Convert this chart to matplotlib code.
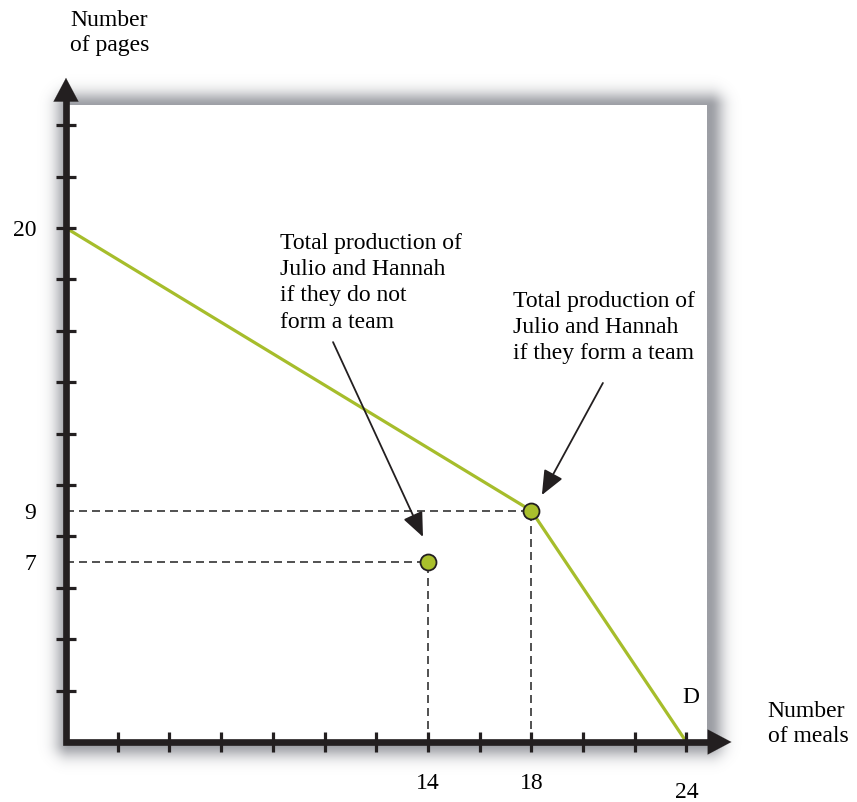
import numpy as np
import matplotlib
matplotlib.use('Agg')
import matplotlib.pyplot as plt
from matplotlib.patches import Rectangle

# dados do grafico
frente_x = [0, 18, 24]
frente_y = [20, 9, 0]
pontos_x = [14, 18]
pontos_y = [7, 9]
ticks_x = list(range(2, 25, 2))
ticks_y = list(range(2, 25, 2))
rotulos_x = {14: '14', 18: '18', 24: '24'}
rotulos_y = {20: '20', 9: '9', 7: '7'}

texto1 = 'Total production of\nJulio and Hannah\nif they do not\nform a team'
texto2 = 'Total production of\nJulio and Hannah\nif they form a team'

preto = '#231f20'
verde = '#a6bd2b'
fonte = 'Liberation Serif'
tam = 17

fig = plt.figure(figsize=(8.57, 8.02), dpi=100)
ax = fig.add_axes([0, 0, 1, 1])
ax.set_xlim(-66 / 25.85, (857 - 66) / 25.85)
ax.set_ylim(-60 / 25.7, 742 / 25.7)
ax.axis('off')

# sombra da caixa branca
xs = np.linspace(-2, 27, 600)
ys = np.linspace(-2, 27, 600)
X, Y = np.meshgrid(xs, ys)
sx, sy = 0.12, -0.08
dx = np.maximum(0, np.maximum((0 + sx) - X, X - (24.8 + sx)))
dy = np.maximum(0, np.maximum((0 + sy) - Y, Y - (24.8 + sy)))
d = np.sqrt(dx ** 2 + dy ** 2)
img = np.zeros((600, 600, 4))
img[..., 0] = 0.36
img[..., 1] = 0.37
img[..., 2] = 0.41
img[..., 3] = 0.6 * np.exp(-(d / 0.55) ** 2)
ax.imshow(img, extent=[-2, 27, -2, 27], origin='lower',
          interpolation='bilinear', aspect='auto', zorder=0)
ax.add_patch(Rectangle((0, 0), 24.8, 24.8, facecolor='white', edgecolor='none', zorder=1))

# eixos com setas
ax.plot([0, 0, 25.2], [25.2, 0, 0], color=preto, lw=4.8, solid_joinstyle='miter',
        solid_capstyle='butt', zorder=5)
ax.annotate('', xy=(0, 25.95), xytext=(0, 24.95),
            arrowprops=dict(arrowstyle='-|>,head_length=0.85,head_width=0.45',
                            color=preto, lw=0.1, mutation_scale=20), zorder=5)
ax.annotate('', xy=(25.85, 0), xytext=(24.85, 0),
            arrowprops=dict(arrowstyle='-|>,head_length=0.85,head_width=0.45',
                            color=preto, lw=0.1, mutation_scale=20), zorder=5)
ax.vlines(ticks_x, -0.37, 0.37, color=preto, lw=2.3, zorder=5)
ax.hlines(ticks_y, -0.37, 0.37, color=preto, lw=2.3, zorder=5)

# linhas tracejadas
for px, py in zip(pontos_x, pontos_y):
    ax.plot([0, px], [py, py], color='#333333', lw=1.2, dashes=(4.8, 3), zorder=3)
    ax.plot([px, px], [0, py], color='#333333', lw=1.2, dashes=(4.8, 3), zorder=3)

# fronteira de producao
ax.plot(frente_x, frente_y, color=verde, lw=2.3, zorder=4, solid_capstyle='butt')
ax.plot(pontos_x, pontos_y, 'o', ms=11.5, mfc='#a9bf2c', mec=preto, mew=1.3, zorder=6)

# rotulos
for v, t in rotulos_x.items():
    yy = -1.95 if v == 24 else -1.6
    ax.text(v, yy, t, ha='center', va='center', fontsize=tam, family=fonte)
for v, t in rotulos_y.items():
    ax.text(-1.16, v - 0.1, t, ha='right', va='center', fontsize=tam, family=fonte)

ax.text(24.18, 1.75, 'D', ha='center', va='center', fontsize=tam, family=fonte)
ax.text(0.15, 28.5, 'Number\nof pages', ha='left', va='top', fontsize=tam,
        family=fonte, linespacing=1.28)
ax.text(27.15, 1.6, 'Number\nof meals', ha='left', va='top', fontsize=tam,
        family=fonte, linespacing=1.28)

ax.text(8.28, 19.8, texto1, ha='left', va='top', fontsize=tam, family=fonte,
        linespacing=1.32)
ax.text(17.3, 17.55, texto2, ha='left', va='top', fontsize=tam, family=fonte,
        linespacing=1.32)

# setas das anotacoes
ax.annotate('', xy=(13.81, 7.98), xytext=(10.33, 15.56),
            arrowprops=dict(arrowstyle='-|>,head_length=0.75,head_width=0.32',
                            color=preto, lw=1.3, mutation_scale=20, shrinkA=0, shrinkB=0),
            zorder=5)
ax.annotate('', xy=(18.41, 9.61), xytext=(20.77, 13.97),
            arrowprops=dict(arrowstyle='-|>,head_length=0.75,head_width=0.32',
                            color=preto, lw=1.3, mutation_scale=20, shrinkA=0, shrinkB=0),
            zorder=5)

fig.savefig('out.png', dpi=100, facecolor='white')
